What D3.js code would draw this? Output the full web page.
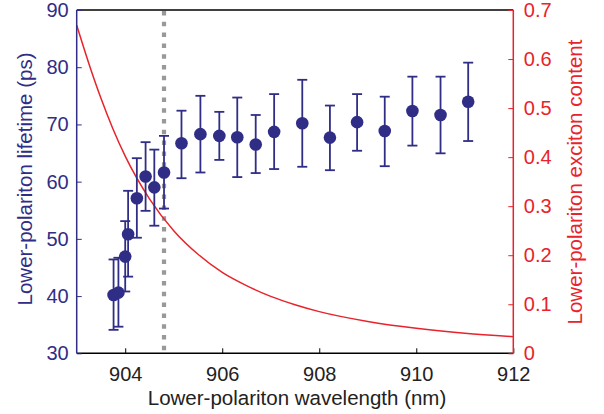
<!DOCTYPE html>
<html>
<head>
<meta charset="utf-8">
<script src="https://cdn.jsdelivr.net/npm/d3@7"></script>
<style>
  html, body { margin: 0; padding: 0; background: #fff; }
  svg { display: block; font-family: "Liberation Sans", Arial, Helvetica, sans-serif; }
</style>
</head>
<body>
<svg id="chart" width="604" height="414"></svg>
<script>
// ---- Data ----
const wavelength = [903.76, 903.86, 904.0, 904.06, 904.24, 904.42, 904.6, 904.8, 905.16, 905.55, 905.94, 906.31, 906.69, 907.07, 907.65, 908.22, 908.78, 909.35, 909.92, 910.5, 911.07];
const lifetime   = [40.2, 40.6, 46.9, 50.8, 57.1, 60.9, 59.0, 61.6, 66.7, 68.3, 68.0, 67.75, 66.5, 68.7, 70.2, 67.7, 70.4, 68.85, 72.35, 71.65, 73.97];
const lifetimeUpper = [46.4, 46.7, 53.1, 58.4, 64.1, 66.9, 65.6, 68.0, 72.4, 75.0, 72.2, 74.7, 71.65, 75.3, 77.8, 73.3, 75.3, 74.85, 78.35, 78.35, 80.8];
const lifetimeLower = [34.1, 34.65, 40.8, 43.4, 50.2, 54.9, 52.3, 55.3, 60.6, 61.6, 63.8, 60.8, 61.5, 62.2, 62.6, 62.0, 65.4, 62.7, 66.3, 64.95, 67.1];

const curveWavelength = [903.0, 903.25, 903.5, 903.75, 904.0, 904.5, 905.0, 905.5, 906.0, 906.5, 907.0, 907.5, 908.0, 909.0, 910.0, 911.0, 912.0];
const excitonContent  = [0.669, 0.591, 0.520, 0.457, 0.402, 0.315, 0.250, 0.202, 0.165, 0.138, 0.116, 0.099, 0.085, 0.065, 0.051, 0.041, 0.034];

const markerWavelength = [904.8];

const xTicks = [904, 906, 908, 910, 912];
const yLeftTicks = [30, 40, 50, 60, 70, 80, 90];
const yRightTicks = [0, 0.1, 0.2, 0.3, 0.4, 0.5, 0.6, 0.7];

// ---- Layout ----
const svg = d3.select("#chart");
const pL = 76.7, pR = 513.3, pT = 10, pB = 353.3;
const blue = "#302d86", red = "#e8232b", gray = "#999999";
const tickFont = 20, titleFont = 20.5;

const x = d3.scaleLinear().domain([903, 912]).range([pL, pR]);
const yL = d3.scaleLinear().domain([30, 90]).range([pB, pT]);
const yR = d3.scaleLinear().domain([0, 0.7]).range([pB, pT]);

// dashed marker line
svg.selectAll(".marker").data(markerWavelength).enter().append("line")
  .attr("x1", d => x(d)).attr("x2", d => x(d))
  .attr("y1", pT + 1).attr("y2", pB)
  .attr("stroke", gray).attr("stroke-width", 4.2)
  .attr("stroke-dasharray", "4.5,6.3");

// red curve
const line = d3.line().x(d => x(d[0])).y(d => yR(d[1])).curve(d3.curveMonotoneX);
svg.append("path")
  .datum(curveWavelength.map((w, i) => [w, excitonContent[i]]))
  .attr("d", line).attr("fill", "none").attr("stroke", red).attr("stroke-width", 1.5);

// error bars
const pts = wavelength.map((w, i) => ({w, v: lifetime[i], lo: lifetimeLower[i], hi: lifetimeUpper[i]}));
const eb = svg.append("g").attr("stroke", blue).attr("stroke-width", 1.8);
pts.forEach(p => {
  eb.append("line").attr("x1", x(p.w)).attr("x2", x(p.w)).attr("y1", yL(p.lo)).attr("y2", yL(p.hi));
  eb.append("line").attr("x1", x(p.w) - 5).attr("x2", x(p.w) + 5).attr("y1", yL(p.lo)).attr("y2", yL(p.lo));
  eb.append("line").attr("x1", x(p.w) - 5).attr("x2", x(p.w) + 5).attr("y1", yL(p.hi)).attr("y2", yL(p.hi));
});
svg.append("g").selectAll("circle").data(pts).enter().append("circle")
  .attr("cx", d => x(d.w)).attr("cy", d => yL(d.v)).attr("r", 6.3).attr("fill", blue);

// ---- Axes ----
svg.append("line").attr("x1", pL).attr("x2", pR).attr("y1", pT).attr("y2", pT)
  .attr("stroke", "#000").attr("stroke-width", 1.5);

const xAxis = d3.axisBottom(x).tickValues(xTicks).tickSize(-5).tickPadding(14).tickFormat(d3.format("d"));
const gx = svg.append("g").attr("transform", `translate(0,${pB})`).call(xAxis);
gx.select(".domain").attr("stroke", "#000").attr("stroke-width", 1.5).attr("d", `M${pL},0H${pR}`);
gx.selectAll(".tick line").attr("stroke", "#000").attr("stroke-width", 1);
gx.selectAll(".tick text").attr("fill", "#222").attr("font-size", tickFont).attr("font-family", "Liberation Sans, Arial, sans-serif");

const yLAxis = d3.axisLeft(yL).tickValues(yLeftTicks).tickSize(-5).tickPadding(8);
const gyl = svg.append("g").attr("transform", `translate(${pL},0)`).call(yLAxis);
gyl.select(".domain").attr("stroke", blue).attr("stroke-width", 1.5).attr("d", `M0,${pT}V${pB}`);
gyl.selectAll(".tick line").attr("stroke", blue).attr("stroke-width", 1);
gyl.selectAll(".tick text").attr("fill", blue).attr("font-size", tickFont).attr("font-family", "Liberation Sans, Arial, sans-serif");

const yRAxis = d3.axisRight(yR).tickValues(yRightTicks).tickSize(-5).tickPadding(10.5).tickFormat(d => d === 0 ? "0" : d3.format(".1f")(d));
const gyr = svg.append("g").attr("transform", `translate(${pR},0)`).call(yRAxis);
gyr.select(".domain").attr("stroke", red).attr("stroke-width", 1.5).attr("d", `M0,${pT}V${pB}`);
gyr.selectAll(".tick line").attr("stroke", red).attr("stroke-width", 1);
gyr.selectAll(".tick text").attr("fill", red).attr("font-size", tickFont).attr("font-family", "Liberation Sans, Arial, sans-serif");

// titles
svg.append("text").attr("x", 297).attr("y", 405).attr("text-anchor", "middle")
  .attr("font-size", titleFont).attr("fill", "#222").text("Lower-polariton wavelength (nm)");
svg.append("text").attr("transform", `translate(32,179) rotate(-90)`)
  .attr("text-anchor", "middle").attr("font-size", titleFont).attr("fill", blue).text("Lower-polariton lifetime (ps)");
svg.append("text").attr("transform", `translate(582,182) rotate(-90)`)
  .attr("text-anchor", "middle").attr("font-size", titleFont).attr("fill", red).text("Lower-polariton exciton content");
</script>
</body>
</html>
